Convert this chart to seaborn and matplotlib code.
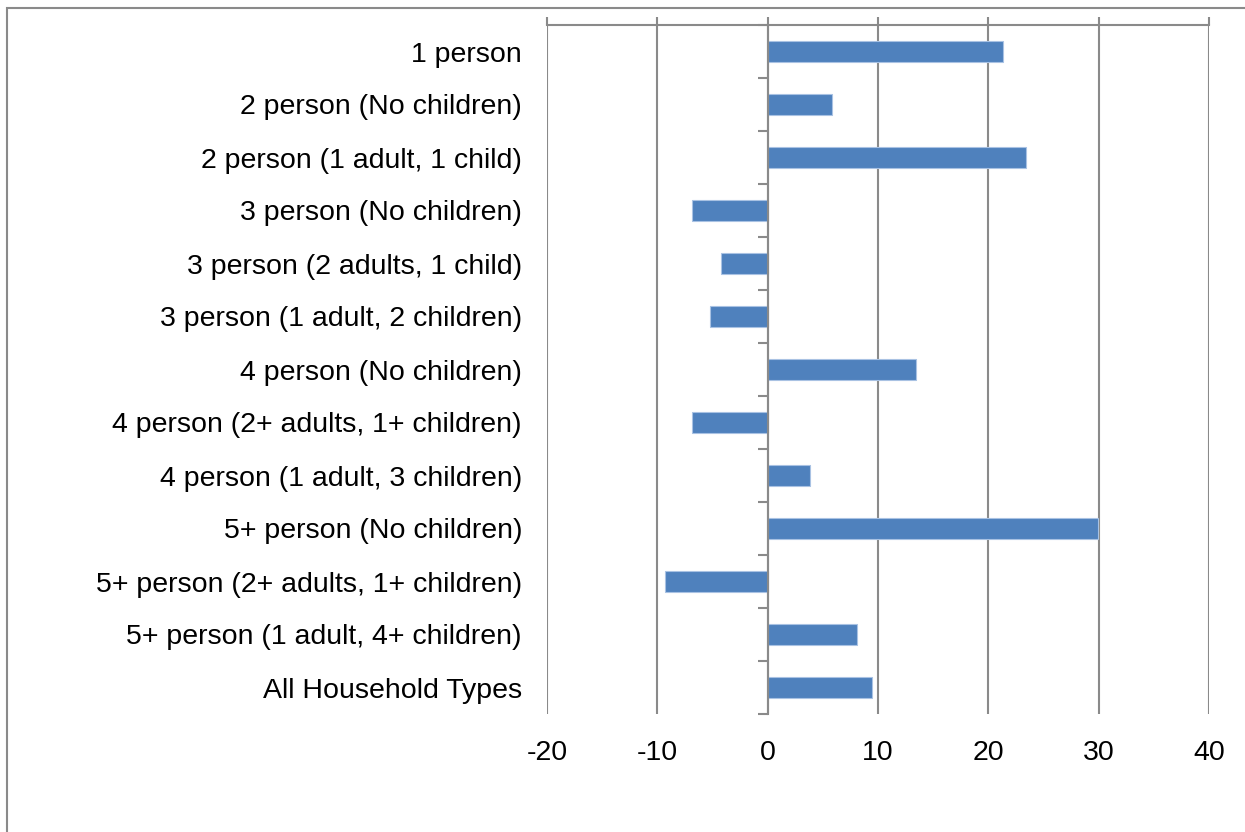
import matplotlib
matplotlib.use("Agg")
import matplotlib.pyplot as plt
from matplotlib.patches import Rectangle
import seaborn as sns
import pandas as pd

categories = [
    "1 person",
    "2 person (No children)",
    "2 person (1 adult, 1 child)",
    "3 person (No children)",
    "3 person (2 adults, 1 child)",
    "3 person (1 adult, 2 children)",
    "4 person (No children)",
    "4 person (2+ adults, 1+ children)",
    "4 person (1 adult, 3 children)",
    "5+ person (No children)",
    "5+ person (2+ adults, 1+ children)",
    "5+ person (1 adult, 4+ children)",
    "All Household Types",
]
values = [21.3, 5.8, 23.4, -6.9, -4.2, -5.2, 13.4, -6.9, 3.8, 29.9, -9.3, 8.1, 9.5]
x_ticks = [-20, -10, 0, 10, 20, 30, 40]

sns.set_theme(style="white")
plt.rcParams["font.family"] = ["Liberation Sans", "DejaVu Sans"]

GRAY = "#8a8a8a"
BAR = "#4F81BD"
FS = 20.5

W, H = 1245, 832
fig = plt.figure(figsize=(W / 100, H / 100), dpi=100)
fig.patch.set_facecolor("white")

# plot area in pixel terms
left, right, top, bottom = 547, 1209, 25, 714
ax = fig.add_axes([left / W, (H - bottom) / H, (right - left) / W, (bottom - top) / H])

df = pd.DataFrame({"category": categories, "value": values})
sns.barplot(data=df, y="category", x="value", orient="h", color=BAR,
            saturation=1, width=0.4, edgecolor="#a9c2e3", linewidth=0.8,
            ax=ax, zorder=3)

ax.set_xlim(x_ticks[0], x_ticks[-1])
ax.set_ylim(len(categories) - 0.5, -0.5)
ax.set_xlabel("")
ax.set_ylabel("")

# vertical gridlines
ax.set_xticks(x_ticks)
ax.set_xticklabels([str(t) for t in x_ticks], fontsize=FS, color="black")
ax.grid(axis="x", color=GRAY, linewidth=1.5, zorder=0)
ax.grid(axis="y", visible=False)
ax.tick_params(axis="x", top=True, bottom=False, labeltop=False, labelbottom=True,
               direction="out", length=6, width=1.5, color=GRAY, pad=13)

# category labels
ax.set_yticks(range(len(categories)))
ax.set_yticklabels(categories, fontsize=FS, color="black")
ax.tick_params(axis="y", left=False, length=0, pad=18)

for side in ["left", "right", "bottom"]:
    ax.spines[side].set_visible(False)
ax.spines["top"].set_color(GRAY)
ax.spines["top"].set_linewidth(1.5)

# category axis at zero with boundary tick marks
zero_pos = (0 - x_ticks[0]) / (x_ticks[-1] - x_ticks[0])
cat_axis = ax.secondary_yaxis(zero_pos)
cat_axis.set_yticks([i - 0.5 for i in range(len(categories) + 1)])
cat_axis.set_yticklabels([])
cat_axis.tick_params(axis="y", direction="out", length=7.5, width=1.5, color=GRAY)
cat_axis.spines["left"].set_color(GRAY)
cat_axis.spines["left"].set_linewidth(1.5)
cat_axis.set_zorder(4)

# chart frame
fig.add_artist(Rectangle((7 / W, -0.5), 2.0, (H - 8) / H + 0.5,
                         transform=fig.transFigure, fill=False,
                         edgecolor=GRAY, linewidth=1.5))

fig.savefig("out.png", dpi=100, facecolor="white")
